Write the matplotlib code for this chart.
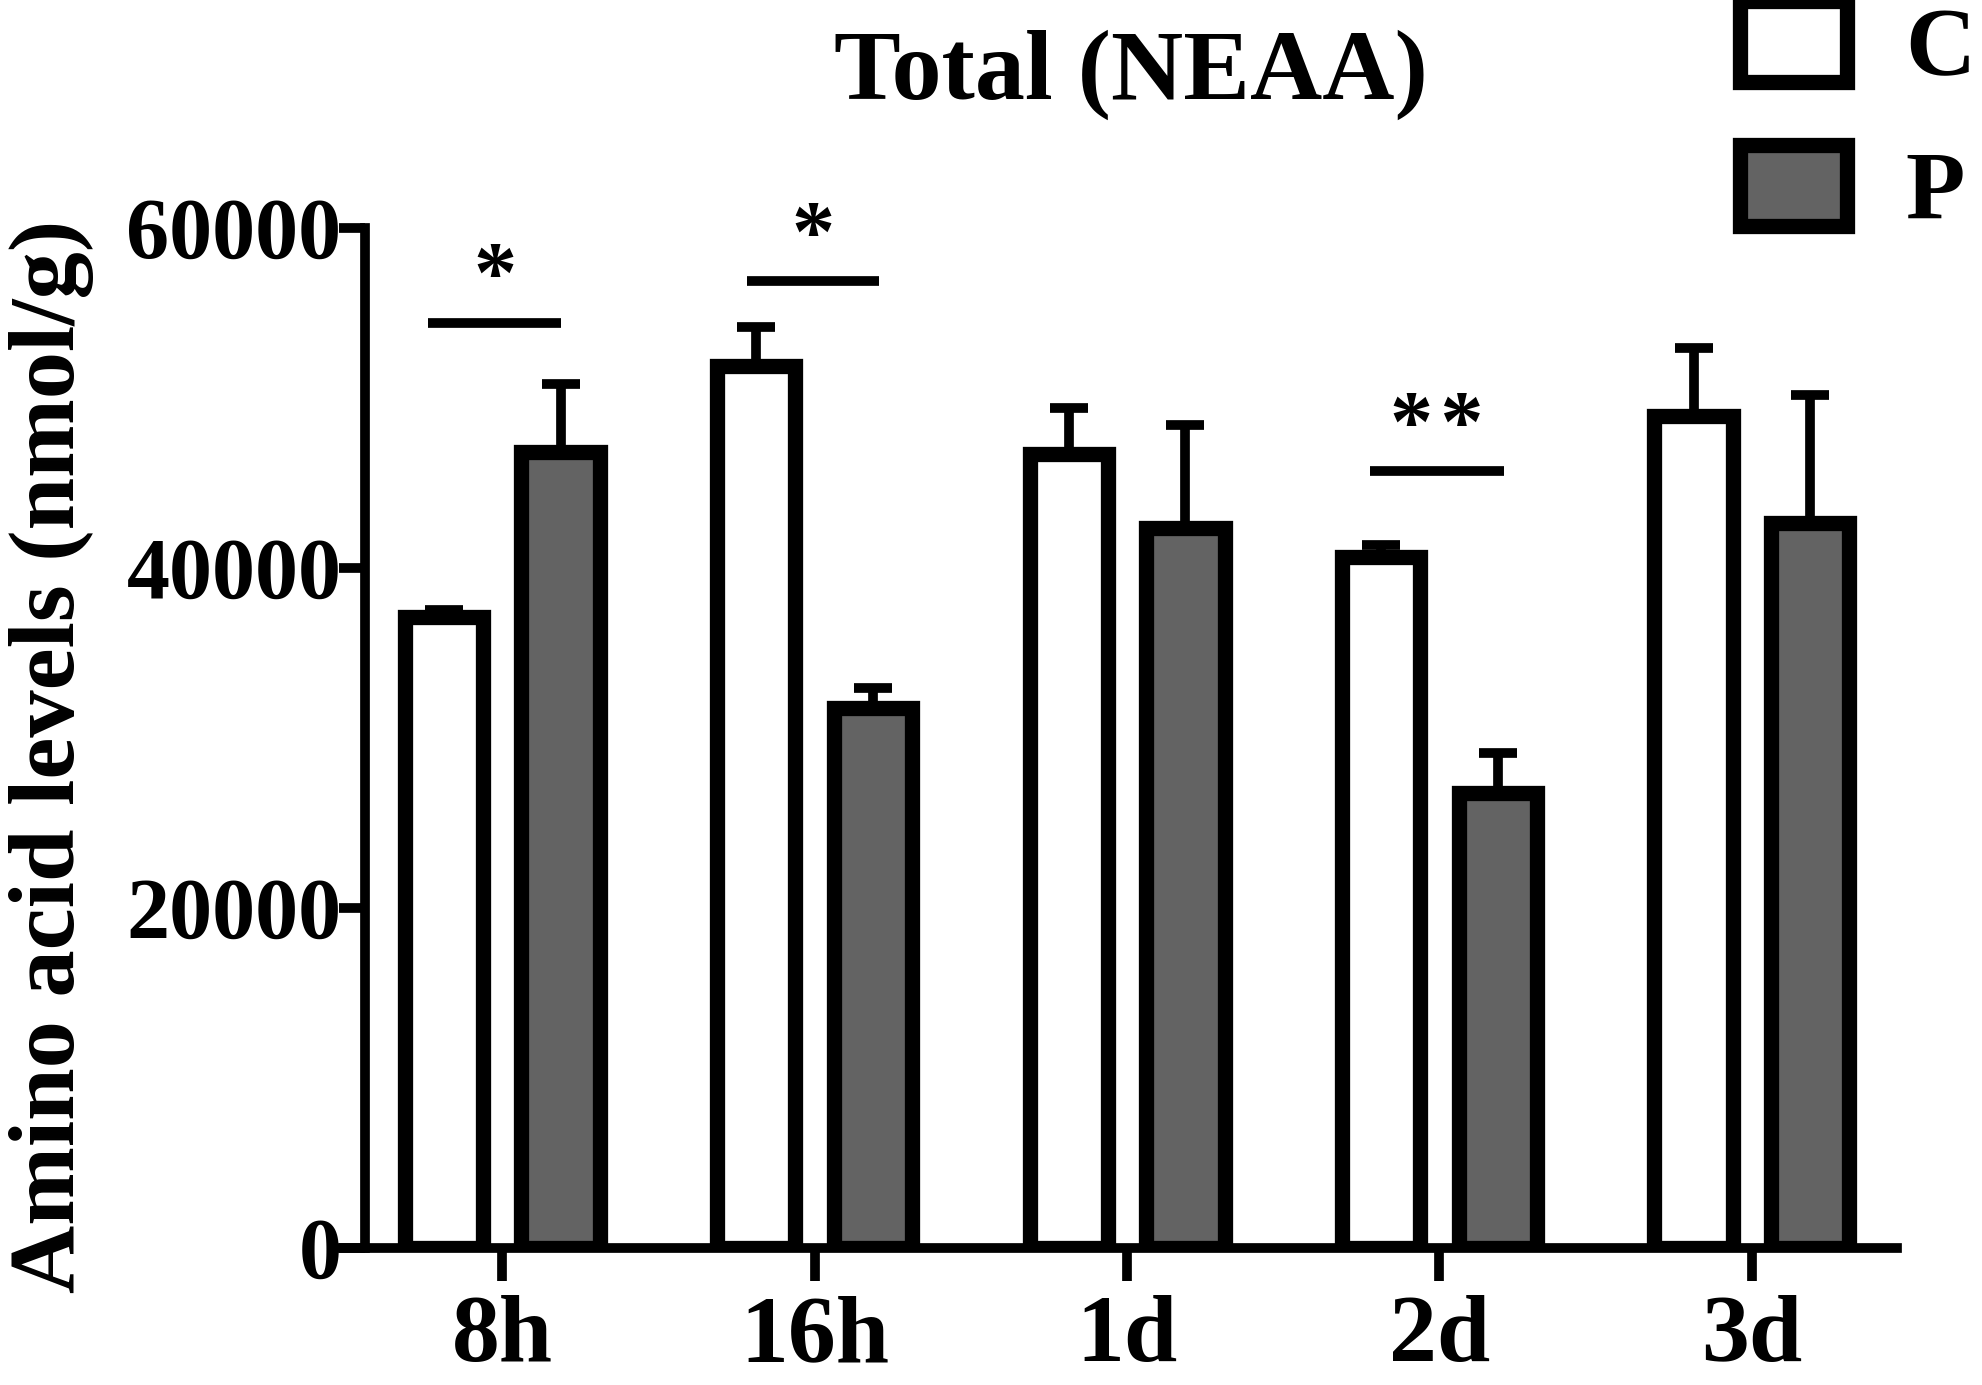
import matplotlib
matplotlib.use("Agg")
import matplotlib.pyplot as plt
import numpy as np
from matplotlib.patches import Patch

plt.rcParams["font.family"] = ["Liberation Serif", "DejaVu Serif"]
plt.rcParams["font.weight"] = "bold"

# values (nmol/g), error bars are one-sided (upper)
TIMES = ["8h", "16h", "1d", "2d", "3d"]
C_MEAN = [37100, 51900, 46700, 40650, 48950]
C_ERR = [450, 2300, 2700, 700, 4000]
P_MEAN = [46800, 31750, 42350, 26750, 42650]
P_ERR = [4000, 1200, 6050, 2350, 7500]

# significance marks: group index, line height, star baseline, label
SIG_GROUP = [0, 1, 3]
SIG_LINE_Y = [54410, 56880, 45730]
SIG_STAR_Y = [55700, 58100, 46950]
SIG_TEXT = ["*", "*", "*\u200a*"]
SIG_SPAN = [(-0.237, 0.189), (-0.216, 0.206), (-0.221, 0.205)]

INK = "black"
GREY = "#636363"
LW_BAR = 11
LW = 7

fig = plt.figure(figsize=(19.83, 13.85), dpi=100)
ax = fig.add_axes([0.1710, 0.0989, 0.7856, 0.7365])

x = np.arange(len(TIMES))
off = 0.187
w = 0.25
ax.bar(x - off, C_MEAN, width=w, color="white", edgecolor=INK, linewidth=LW_BAR,
       yerr=[np.zeros(len(C_ERR)), C_ERR],
       error_kw=dict(ecolor=INK, elinewidth=LW, capsize=14, capthick=LW))
ax.bar(x + off, P_MEAN, width=w, color=GREY, edgecolor=INK, linewidth=LW_BAR,
       yerr=[np.zeros(len(P_ERR)), P_ERR],
       error_kw=dict(ecolor=INK, elinewidth=LW, capsize=14, capthick=LW))

for g, ly, sy, txt, (d0, d1) in zip(SIG_GROUP, SIG_LINE_Y, SIG_STAR_Y, SIG_TEXT, SIG_SPAN):
    x0, x1 = g + d0, g + d1
    ax.plot([x0, x1], [ly, ly], color=INK, lw=LW, solid_capstyle="butt", clip_on=False)
    ax.text((x0 + x1) / 2, sy, txt, ha="center", va="baseline", fontsize=62,
            fontweight="bold")

ax.set_xlim(-0.5216, 4.464)
ax.set_ylim(0, 60000)
ax.set_yticks([0, 20000, 40000, 60000])
ax.set_xticks(x)
ax.set_xticklabels(TIMES)

for side in ("top", "right"):
    ax.spines[side].set_visible(False)
for side in ("left", "bottom"):
    ax.spines[side].set_linewidth(LW)
    ax.spines[side].set_color(INK)
ax.spines["left"].set_position(("axes", 0.0167))

ax.tick_params(axis="y", length=19, width=LW, pad=-2, labelsize=62, colors=INK)
ax.tick_params(axis="x", length=24, width=LW, pad=10, labelsize=69, colors=INK)

fig.text(0.026, 0.454, "Amino acid levels (nmol/g)", rotation=90, ha="center",
         va="center", fontsize=68, fontweight="bold")
fig.text(0.5704, 0.9285, "Total (NEAA)", ha="center", va="baseline", fontsize=72,
         fontweight="bold")

handles = [Patch(facecolor="white", edgecolor=INK, linewidth=LW_BAR),
           Patch(facecolor=GREY, edgecolor=INK, linewidth=LW_BAR)]
fig.legend(handles, ["C", "P"], loc="upper left", bbox_to_anchor=(0.8775, 0.999),
           frameon=False, fontsize=70, handlelength=1.1, handleheight=0.9,
           handletextpad=0.6, labelspacing=0.5, borderpad=0.0, borderaxespad=0.0)

fig.savefig("out.png", dpi=100, facecolor="white")
